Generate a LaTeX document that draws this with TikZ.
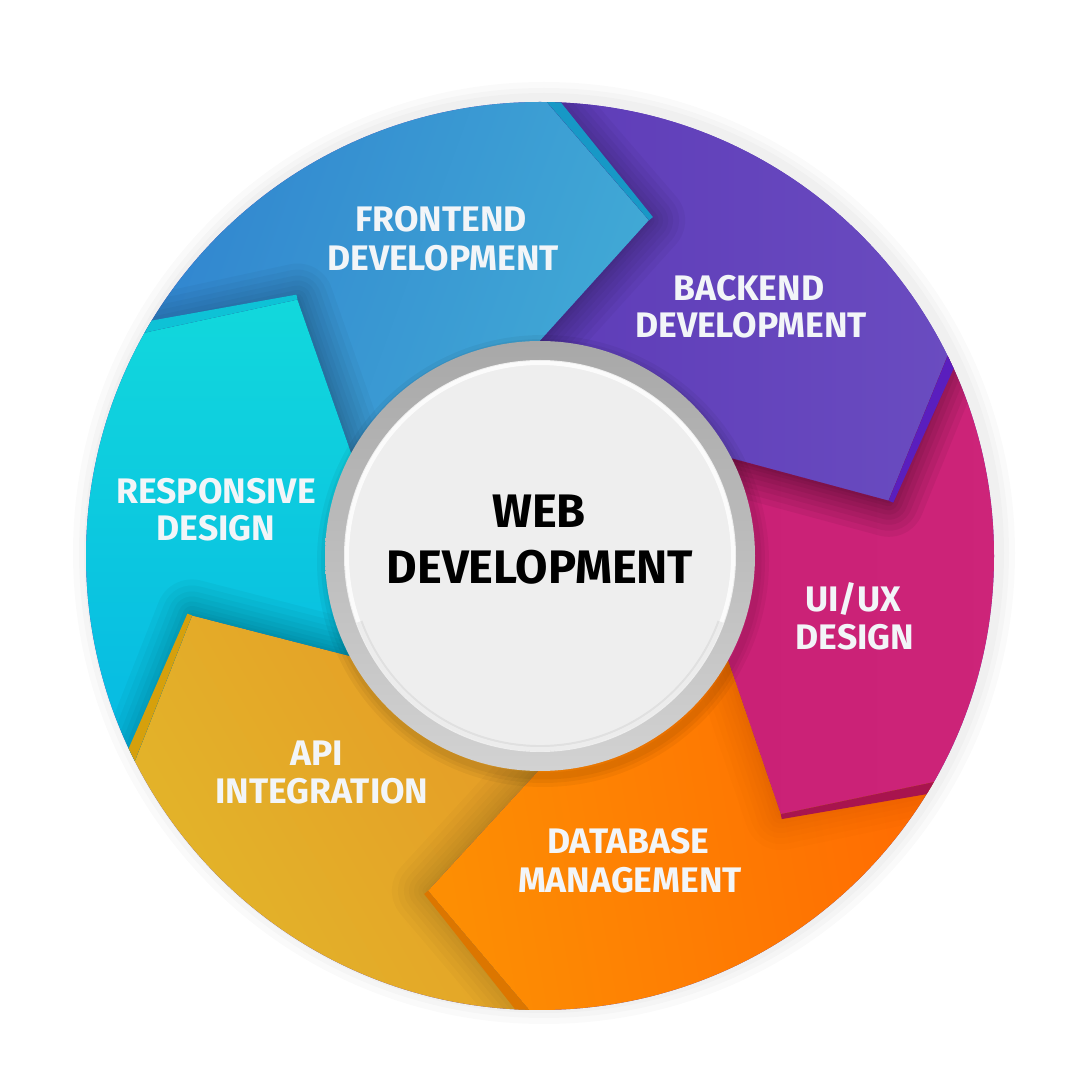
\documentclass[tikz,border=0pt]{standalone}
\usepackage{fontspec}
\setmainfont{Fira Sans}
\usetikzlibrary{calc}
\definecolor{blueL}{HTML}{3185CF}
\definecolor{blueR}{HTML}{42ACD6}
\definecolor{purpL}{HTML}{5E3CB8}
\definecolor{purpR}{HTML}{6A4CC0}
\definecolor{magL}{HTML}{C81F74}
\definecolor{magR}{HTML}{CD2479}
\definecolor{oraL}{HTML}{FD8E03}
\definecolor{oraR}{HTML}{FF6A02}
\definecolor{yelL}{HTML}{E2B62A}
\definecolor{yelR}{HTML}{E69A26}
\definecolor{cyaT}{HTML}{12D8DC}
\definecolor{cyaB}{HTML}{06B8E3}
\definecolor{stripBlue}{HTML}{1798C6}
\definecolor{stripPurp}{HTML}{5A1EBE}
\definecolor{stripMag}{HTML}{A8144E}
\definecolor{stripOra}{HTML}{DC7600}
\definecolor{stripYel}{HTML}{D6A00C}
\definecolor{stripCya}{HTML}{0EC2D6}
\definecolor{labelwhite}{HTML}{F2F5F8}
\definecolor{ringTop}{HTML}{A8A8A8}
\definecolor{ringBot}{HTML}{D2D2D2}
\definecolor{innerwhite}{HTML}{EEEEEE}
\newcommand\shadowalong[3]{%
  \begin{scope}
    \clip #1;
    \foreach \w in {72,60,48,38,28,19,11,5}{%
      \draw[line width=\w pt, black, opacity=#3, line join=round] (O#2) -- (T#2) -- (I#2);
    }
  \end{scope}}
\newcommand\sidestrip[2]{%
  \fill[#2] (O#1) -- (T#1) -- ($(T#1)!5pt!-90:(O#1)$) -- ($(O#1)!11pt!90:(T#1)$) -- cycle;}
\begin{document}
\begin{tikzpicture}[x=1pt,y=1pt,
  lbl/.style={text=labelwhite, font=\bfseries\fontsize{35.5}{40}\selectfont, anchor=base, inner sep=0pt},
  ttl/.style={text=black, font=\bfseries\fontsize{47}{52}\selectfont, anchor=base, inner sep=0pt}]
\useasboundingbox (0,0) rectangle (1080,1080);
\fill[white] (0,0) rectangle (1080,1080);
\coordinate (C) at (540,524);
% faint soft shadow around the wheel
\foreach \w in {34,22,12}{\draw[black, opacity=0.018, line width=\w pt] ($(C)+(4,3)$) circle (454);}
\begin{scope}[shift={(C)}]
  \coordinate (O1) at (90:462);     \coordinate (T1) at (72:353);     \coordinate (I1) at (90:215);
  \coordinate (O2) at (27:462);     \coordinate (T2) at (9:353);      \coordinate (I2) at (27:215);
  \coordinate (O3) at (-29:462);    \coordinate (T3) at (-47:353);    \coordinate (I3) at (-29:215);
  \coordinate (O4) at (-90.5:462);  \coordinate (T4) at (-108.5:353); \coordinate (I4) at (-90.5:215);
  \coordinate (O5) at (-152.3:462); \coordinate (T5) at (-170.3:353); \coordinate (I5) at (-152.3:215);
  \coordinate (O6) at (151.4:462);  \coordinate (T6) at (133.4:353);  \coordinate (I6) at (151.4:215);
  \def\segBlue{(O6) arc[start angle=151.4, end angle=90, radius=462] -- (T1) -- (I1) -- (0,0) -- (I6) -- (T6) -- cycle}
  \def\segPurple{(O1) arc[start angle=90, end angle=27, radius=462] -- (T2) -- (I2) -- (0,0) -- (I1) -- (T1) -- cycle}
  \def\segMagenta{(O2) arc[start angle=27, end angle=-29, radius=462] -- (T3) -- (I3) -- (0,0) -- (I2) -- (T2) -- cycle}
  \def\segOrange{(O3) arc[start angle=-29, end angle=-90.5, radius=462] -- (T4) -- (I4) -- (0,0) -- (I3) -- (T3) -- cycle}
  \def\segYellow{(O4) arc[start angle=-90.5, end angle=-152.3, radius=462] -- (T5) -- (I5) -- (0,0) -- (I4) -- (T4) -- cycle}
  \def\segCyan{(O5) arc[start angle=-152.3, end angle=-208.6, radius=462] -- (T6) -- (I6) -- (0,0) -- (I5) -- (T5) -- cycle}
  \begin{scope}
    \clip (0,0) circle (454);
    \fill[purpL] (0,0) circle (460);
    \shade[left color=blueL, right color=blueR, shading angle=70] \segBlue;
    \shade[left color=purpL, right color=purpR] \segPurple;
    \shade[left color=magL, right color=magR] \segMagenta;
    \shade[left color=oraL, right color=oraR, shading angle=100] \segOrange;
    \shade[left color=yelL, right color=yelR, shading angle=120] \segYellow;
    \shade[top color=cyaT, bottom color=cyaB] \segCyan;
    % shadows cast by each arrow head on its clockwise neighbour
    \shadowalong{\segPurple}{1}{0.035}
    \shadowalong{\segMagenta}{2}{0.055}
    \shadowalong{\segOrange}{3}{0.012}
    \shadowalong{\segYellow}{4}{0.018}
    \shadowalong{\segCyan}{5}{0.03}
    \shadowalong{\segBlue}{6}{0.03}
    % extruded side faces of the arrow heads
    \sidestrip{1}{stripBlue}
    \sidestrip{2}{stripPurp}
    \sidestrip{3}{stripMag}
    \sidestrip{4}{stripOra}
    \sidestrip{5}{stripYel}
    \sidestrip{6}{stripCya}
  \end{scope}
  % centre disc
  \foreach \w in {22,14,7}{\draw[black, opacity=0.045, line width=\w pt] (3,-5) circle (215);}
  \shade[top color=ringTop, bottom color=ringBot] (0,0) circle (215);
  \fill[innerwhite] (0,0) circle (196);
  \draw[white, line width=4pt, opacity=0.8] (0,0) circle (193);
  \draw[black, opacity=0.06, line width=6pt] (-160:192) arc[start angle=-160, end angle=-20, radius=192];
\end{scope}
% labels
\node[lbl] (fe1) at (441,848) {FRONTEND};
\node[lbl] (fe2) at (443,809) {DEVELOPMENT};
\node[lbl] (be1) at (749,779) {BACKEND};
\node[lbl] (be2) at (751,742) {DEVELOPMENT};
\node[lbl] (ux1) at (853,468) {UI/UX};
\node[lbl] (ux2) at (855,430) {DESIGN};
\node[lbl] (db1) at (628,226) {DATABASE};
\node[lbl] (db2) at (630,187) {MANAGEMENT};
\node[lbl] (ap1) at (317,314) {API};
\node[lbl] (ap2) at (322,276) {INTEGRATION};
\node[lbl] (rd1) at (216,576) {RESPONSIVE};
\node[lbl] (rd2) at (216,539) {DESIGN};
\node[ttl] (wd1) at (539,552) {WEB};
\node[ttl] (wd2) at (540,496) {DEVELOPMENT};
\end{tikzpicture}
\end{document}
